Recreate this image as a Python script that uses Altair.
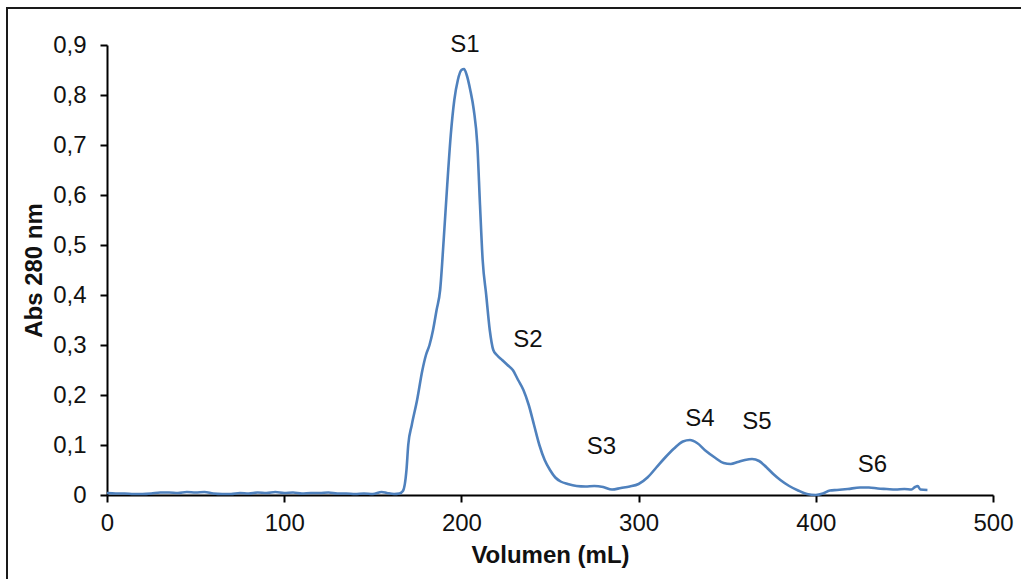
import altair as alt
import pandas as pd

volume = [0, 5, 10, 15, 20, 25, 30, 35, 40, 45, 50, 55, 60, 65, 70, 75, 80, 85, 90, 95,
          100, 105, 110, 115, 120, 125, 130, 135, 140, 145, 150, 155, 158, 162, 165, 167,
          169, 170, 172, 175, 178, 180, 182, 184, 186, 188, 190, 192, 194, 196, 198, 200,
          201.5, 203, 205, 207, 209, 210.5, 212, 214, 216, 218, 220, 223, 226, 229, 232,
          235, 238, 241, 244, 247, 250, 253, 256, 260, 265, 270, 275, 280, 285, 290, 295,
          300, 305, 310, 315, 320, 325, 329, 333, 338, 343, 348, 352, 356, 360, 364, 368,
          372, 376, 380, 385, 390, 395, 400, 404, 408, 412, 418, 425, 430, 435, 440, 445,
          450, 454, 456, 457.5, 459, 463]
absorb = [0.004, 0.003, 0.003, 0.002, 0.002, 0.003, 0.005, 0.005, 0.004, 0.006, 0.005,
          0.006, 0.003, 0.002, 0.002, 0.004, 0.003, 0.005, 0.004, 0.006, 0.004, 0.005,
          0.003, 0.004, 0.004, 0.005, 0.003, 0.003, 0.002, 0.003, 0.002, 0.006, 0.004,
          0.002, 0.003, 0.008, 0.05, 0.10, 0.14, 0.19, 0.25, 0.28, 0.30, 0.33, 0.37, 0.41,
          0.51, 0.62, 0.72, 0.79, 0.83, 0.85, 0.852, 0.84, 0.81, 0.77, 0.70, 0.58, 0.47,
          0.40, 0.33, 0.29, 0.28, 0.27, 0.26, 0.25, 0.23, 0.21, 0.18, 0.14, 0.10, 0.07,
          0.05, 0.035, 0.027, 0.022, 0.018, 0.017, 0.018, 0.016, 0.011, 0.014, 0.017,
          0.022, 0.035, 0.055, 0.075, 0.093, 0.107, 0.11, 0.104, 0.088, 0.075, 0.064,
          0.062, 0.066, 0.07, 0.072, 0.068, 0.056, 0.042, 0.03, 0.018, 0.009, 0.002, 0.0,
          0.003, 0.009, 0.01, 0.012, 0.015, 0.015, 0.013, 0.012, 0.011, 0.012, 0.011,
          0.016, 0.018, 0.011, 0.01]

peak_labels = ["S1", "S2", "S3", "S4", "S5", "S6"]
peak_x = [202, 237.6, 279, 334.6, 366.8, 432]
peak_y = [0.9, 0.31, 0.096, 0.152, 0.146, 0.06]

x_ticks = [0, 100, 200, 300, 400, 500]
y_ticks = [0, 0.1, 0.2, 0.3, 0.4, 0.5, 0.6, 0.7, 0.8, 0.9]

df = pd.DataFrame({"v": volume, "a": absorb})
lab = pd.DataFrame({"t": peak_labels, "x": peak_x, "y": peak_y})

FONT = "Liberation Sans"

xs = alt.Scale(domain=[0, 500], nice=False)
ys = alt.Scale(domain=[0, 0.9], nice=False)

frame = alt.Chart(pd.DataFrame({"k": [0]})).mark_rect(
    fill=None, stroke="#1a1a1a", strokeWidth=2
).encode(
    x=alt.value(-100), x2=alt.value(1100), y=alt.value(-37), y2=alt.value(700)
)

line = alt.Chart(df).mark_line(color="#4f81bd", strokeWidth=2.6, interpolate="monotone").encode(
    x=alt.X("v:Q", scale=xs, title="Volumen (mL)",
            axis=alt.Axis(values=x_ticks, grid=False, domainColor="black", domainWidth=2,
                          tickColor="black", tickWidth=2, tickSize=7, labelFontSize=24,
                          labelFont=FONT, labelColor="#111", labelPadding=9, labelFlush=False,
                          titleFont=FONT, titleFontSize=24, titleFontWeight="bold",
                          titleColor="#111", titlePadding=8)),
    y=alt.Y("a:Q", scale=ys, title="Abs 280 nm",
            axis=alt.Axis(values=y_ticks, grid=False, domainColor="black", domainWidth=2,
                          tickColor="black", tickWidth=2, tickSize=7, labelFontSize=24,
                          labelFont=FONT, labelColor="#111", labelPadding=14, labelFlush=False,
                          labelExpr="datum.value == 0 ? '0' : replace(format(datum.value, '.1f'), '.', ',')",
                          titleFont=FONT, titleFontSize=24, titleFontWeight="bold",
                          titleColor="#111", titlePadding=6)),
)

texts = alt.Chart(lab).mark_text(font=FONT, fontSize=24, color="#111", baseline="middle").encode(
    x=alt.X("x:Q", scale=xs), y=alt.Y("y:Q", scale=ys), text="t:N"
)

chart = alt.layer(frame, line, texts).properties(
    width=886, height=450,
    background="white",
    autosize=alt.AutoSizeParams(type="none"),
    padding={"left": 107, "top": 45, "right": 28, "bottom": 84},
).configure_view(strokeWidth=0, stroke="transparent")

chart.save("out.html", embed_options={"renderer": "svg", "actions": False})
